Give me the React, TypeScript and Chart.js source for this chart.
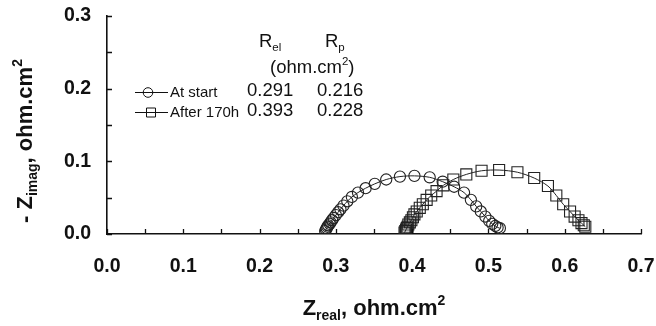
import React, { useEffect, useRef } from "react";
import { Chart, registerables } from "chart.js";

Chart.register(...registerables);

// ---- data ----
const seriesNames = ["At start", "After 170h"];
const startReal = [0.286, 0.287, 0.288, 0.289, 0.290, 0.292, 0.293, 0.295, 0.297, 0.300, 0.303, 0.306, 0.310, 0.315, 0.321, 0.329, 0.339, 0.351, 0.366, 0.384, 0.403, 0.423, 0.440, 0.455, 0.468, 0.477, 0.484, 0.490, 0.496, 0.501, 0.505, 0.509, 0.512, 0.515];
const startImag = [0.004, 0.006, 0.008, 0.010, 0.012, 0.014, 0.016, 0.019, 0.022, 0.026, 0.030, 0.034, 0.039, 0.045, 0.051, 0.057, 0.063, 0.069, 0.075, 0.079, 0.080, 0.078, 0.072, 0.065, 0.057, 0.047, 0.038, 0.031, 0.024, 0.018, 0.014, 0.011, 0.009, 0.008];
const agedReal = [0.390, 0.391, 0.392, 0.393, 0.394, 0.395, 0.397, 0.399, 0.401, 0.403, 0.406, 0.410, 0.414, 0.419, 0.425, 0.432, 0.441, 0.454, 0.471, 0.491, 0.514, 0.538, 0.560, 0.578, 0.589, 0.598, 0.607, 0.613, 0.618, 0.622, 0.625, 0.627];
const agedImag = [0.002, 0.004, 0.006, 0.008, 0.010, 0.013, 0.016, 0.019, 0.023, 0.027, 0.031, 0.036, 0.041, 0.047, 0.053, 0.059, 0.067, 0.075, 0.082, 0.087, 0.088, 0.085, 0.077, 0.066, 0.053, 0.041, 0.031, 0.024, 0.019, 0.015, 0.012, 0.010];
const rElValues = ["0.291", "0.393"];
const rPValues = ["0.216", "0.228"];
const xTickLabels = ["0.0", "0.1", "0.2", "0.3", "0.4", "0.5", "0.6", "0.7"];
const yTickLabels = ["0.0", "0.1", "0.2", "0.3"];

const FONT = "'Liberation Sans', Arial, Helvetica, sans-serif";
const INK = "#111";

type Seg = { t: string; size: number; dy?: number; bold?: boolean };

function drawRich(ctx: CanvasRenderingContext2D, segs: Seg[], x: number, y: number, align: "left" | "center") {
  let total = 0;
  const widths: number[] = [];
  for (const s of segs) {
    ctx.font = `${s.bold ? "bold " : ""}${s.size}px ${FONT}`;
    const w = ctx.measureText(s.t).width;
    widths.push(w);
    total += w;
  }
  let cx = align === "center" ? x - total / 2 : x;
  segs.forEach((s, i) => {
    ctx.font = `${s.bold ? "bold " : ""}${s.size}px ${FONT}`;
    ctx.fillText(s.t, cx, y + (s.dy || 0));
    cx += widths[i];
  });
}

const decorPlugin = {
  id: "decor",
  afterDraw(chart: any) {
    const ctx: CanvasRenderingContext2D = chart.ctx;
    const xs = chart.scales.x;
    const ys = chart.scales.y;
    const area = chart.chartArea;
    ctx.save();
    // inward tick marks
    ctx.strokeStyle = INK;
    ctx.lineWidth = 1.3;
    ctx.beginPath();
    xs.ticks.forEach((t: any) => {
      const px = Math.round(xs.getPixelForValue(t.value)) + 0.5;
      ctx.moveTo(px, area.bottom);
      ctx.lineTo(px, area.bottom - 5);
    });
    ys.ticks.forEach((t: any) => {
      const py = Math.round(ys.getPixelForValue(t.value)) + 0.5;
      ctx.moveTo(area.left, py);
      ctx.lineTo(area.left + 5, py);
    });
    ctx.stroke();

    ctx.fillStyle = INK;
    ctx.textBaseline = "alphabetic";
    // x axis title
    drawRich(
      ctx,
      [
        { t: "Z", size: 22, bold: true },
        { t: "real", size: 14, dy: 5, bold: true },
        { t: ", ohm.cm", size: 22, bold: true },
        { t: "2", size: 14, dy: -10, bold: true },
      ],
      (area.left + area.right) / 2,
      315,
      "center"
    );
    // y axis title
    ctx.save();
    ctx.translate(32, 141);
    ctx.rotate(-Math.PI / 2);
    drawRich(
      ctx,
      [
        { t: "- Z", size: 22, bold: true },
        { t: "imag", size: 14, dy: 5, bold: true },
        { t: ", ohm.cm", size: 22, bold: true },
        { t: "2", size: 14, dy: -10, bold: true },
      ],
      0,
      0,
      "center"
    );
    ctx.restore();

    // table header
    drawRich(ctx, [{ t: "R", size: 18.5 }, { t: "el", size: 11.5, dy: 4 }], 259, 47, "left");
    drawRich(ctx, [{ t: "R", size: 18.5 }, { t: "p", size: 11.5, dy: 4 }], 325, 47, "left");
    drawRich(ctx, [{ t: "(ohm.cm", size: 18.5 }, { t: "2", size: 11.5, dy: -8 }, { t: ")", size: 18.5 }], 270, 73, "left");

    // legend rows
    const rowY = [92, 112];
    const rowBase = [97, 117];
    ctx.lineWidth = 1;
    for (let i = 0; i < 2; i++) {
      ctx.beginPath();
      ctx.moveTo(135, rowY[i] + 0.5);
      ctx.lineTo(168, rowY[i] + 0.5);
      ctx.stroke();
      ctx.beginPath();
      if (i === 0) {
        ctx.arc(148, rowY[i] + 0.5, 4.8, 0, Math.PI * 2);
      } else {
        ctx.rect(146.5, rowY[i] - 4, 9, 9);
      }
      ctx.stroke();
      ctx.font = `15px ${FONT}`;
      ctx.fillText(seriesNames[i], 170, rowBase[i]);
      ctx.font = `18.5px ${FONT}`;
      ctx.fillText(rElValues[i], 247, rowBase[i] - 1);
      ctx.fillText(rPValues[i], 317, rowBase[i] - 1);
    }
    ctx.restore();
  },
};

export default function App() {
  const ref = useRef<HTMLCanvasElement | null>(null);

  useEffect(() => {
    document.body.style.margin = "0";
    const canvas = ref.current;
    if (!canvas) return;
    const toPts = (xs: number[], ys: number[]) => xs.map((x, i) => ({ x, y: ys[i] }));
    const chart = new Chart(canvas, {
      type: "scatter",
      data: {
        datasets: [
          {
            label: seriesNames[0],
            data: toPts(startReal, startImag),
            showLine: true,
            tension: 0.3,
            borderColor: "#222",
            borderWidth: 1,
            pointStyle: "circle",
            pointRadius: 5.6,
            pointBorderWidth: 1.1,
            pointBorderColor: "#222",
            pointBackgroundColor: "rgba(0,0,0,0)",
          },
          {
            label: seriesNames[1],
            data: toPts(agedReal, agedImag),
            showLine: true,
            tension: 0.3,
            borderColor: "#222",
            borderWidth: 1,
            pointStyle: "rect",
            pointRadius: 7.8,
            pointBorderWidth: 1.1,
            pointBorderColor: "#222",
            pointBackgroundColor: "rgba(0,0,0,0)",
          },
        ],
      },
      options: {
        animation: false,
        responsive: false,
        maintainAspectRatio: false,
        layout: { padding: { top: 16, right: 15, left: 0, bottom: 0 } },
        plugins: { legend: { display: false }, tooltip: { enabled: false } },
        scales: {
          x: {
            type: "linear",
            min: 0,
            max: 0.7,
            grid: { display: true, drawOnChartArea: false, drawTicks: true, tickLength: 21, tickColor: "rgba(0,0,0,0)" },
            border: { display: true, color: INK, width: 1.6 },
            ticks: {
              stepSize: 0.05,
              padding: 0,
              color: INK,
              maxRotation: 0,
              autoSkip: false,
              font: { family: FONT, size: 19.5, weight: "bold" },
              callback: (v: any) => {
                const k = Math.round(Number(v) * 100);
                return k % 10 === 0 ? xTickLabels[k / 10] : "";
              },
            },
            afterFit: (s: any) => {
              s.height = 92;
            },
          },
          y: {
            type: "linear",
            min: 0,
            max: 0.3,
            grid: { display: true, drawOnChartArea: false, drawTicks: true, tickLength: 16, tickColor: "rgba(0,0,0,0)" },
            border: { display: true, color: INK, width: 1.6 },
            ticks: {
              stepSize: 0.05,
              padding: 0,
              color: INK,
              autoSkip: false,
              font: { family: FONT, size: 19.5, weight: "bold" },
              callback: (v: any) => {
                const k = Math.round(Number(v) * 100);
                return k % 10 === 0 ? yTickLabels[k / 10] : "";
              },
            },
            afterFit: (s: any) => {
              s.width = 107;
            },
          },
        },
      },
      plugins: [decorPlugin],
    });
    return () => chart.destroy();
  }, []);

  return (
    <div style={{ width: 656, height: 326, background: "#fff" }}>
      <canvas ref={ref} width={656} height={326} style={{ display: "block" }} />
    </div>
  );
}
